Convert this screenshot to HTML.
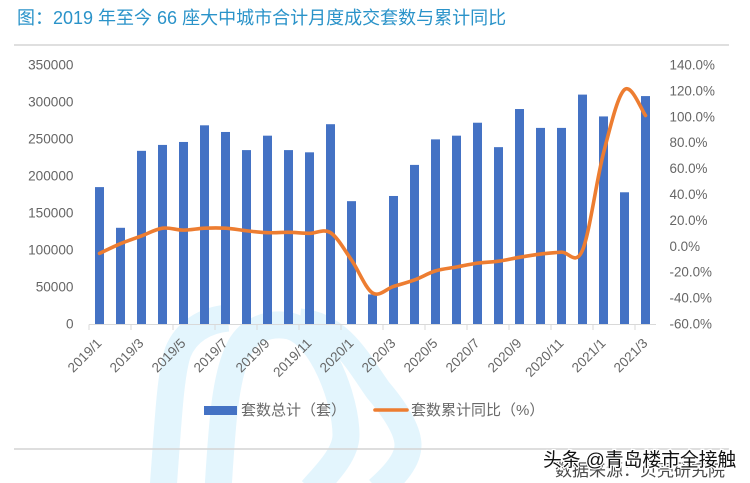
<!DOCTYPE html>
<html lang="zh">
<head>
<meta charset="utf-8">
<title>2019 年至今 66 座大中城市合计月度成交套数与累计同比</title>
<style>
html,body{margin:0;padding:0;background:#fff;}
body{width:750px;height:483px;overflow:hidden;position:relative;}
svg{position:absolute;left:0;top:0;display:block;filter:blur(0.35px);}
text{font-family:"Liberation Sans","Noto Sans CJK SC",sans-serif;}
</style>
</head>
<body>
<svg id="chart" width="750" height="483" viewBox="0 0 750 483" xmlns="http://www.w3.org/2000/svg">
  <g fill="none" stroke="#e3f5fd" stroke-width="27">
    <path d="M163,490 C168,425 170,375 178,352 C186,332 205,320 228,318"/>
    <path d="M218,490 C222,425 225,375 240,347 C250,329 270,322 290,326 C322,335 346,400 346,435 C346,455 325,475 312,490"/>
    <path d="M300,322 C340,325 360,365 378,390 C395,410 408,430 408,445 C408,460 395,475 378,490"/>
  </g>
  <text x="17" y="24" font-size="18" fill="#2a93c9">图：2019 年至今 66 座大中城市合计月度成交套数与累计同比</text>
  <line x1="14" y1="45" x2="729" y2="45" stroke="#bfbfbf" stroke-width="1"/>
  <line x1="14" y1="449" x2="729" y2="449" stroke="#d4d4d4" stroke-width="1.5"/>
  <g id="bars"></g>
  <line x1="89" y1="324.5" x2="656" y2="324.5" stroke="#d9d9d9" stroke-width="1"/>
  <g id="ticks"></g>
  <g id="xlabels"></g>
  <g id="ylabels"></g>
  <g id="rlabels"></g>
  <path id="line" fill="none" stroke="#ed7d31" stroke-width="3.6" stroke-linecap="round" stroke-linejoin="round"/>
  <g>
    <rect x="204" y="406" width="33" height="9" fill="#4472c4"/>
    <text x="241" y="415" font-size="15" fill="#6a6a6a">套数总计（套）</text>
    <line x1="375" y1="410" x2="407" y2="410" stroke="#ed7d31" stroke-width="3.6" stroke-linecap="round"/>
    <text x="411" y="415" font-size="15" fill="#6a6a6a">套数累计同比（%）</text>
  </g>
  <text x="555" y="476" font-size="17" fill="#4a4a4a">数据来源：贝壳研究院</text>
  <text x="543" y="466" font-size="18.8" fill="#111" stroke="#fff" stroke-width="2.5" paint-order="stroke">头条 @青岛楼市全接触</text>
</svg>
<script>
const categories = ["2019/1","2019/2","2019/3","2019/4","2019/5","2019/6","2019/7","2019/8","2019/9","2019/10","2019/11","2019/12","2020/1","2020/2","2020/3","2020/4","2020/5","2020/6","2020/7","2020/8","2020/9","2020/10","2020/11","2020/12","2021/1","2021/2","2021/3"];
const totalUnits = [185000,130000,234000,242000,246000,268500,259500,235000,254500,235000,232000,270000,166000,40000,173000,215000,249500,254500,272000,239000,290500,265000,265000,310000,280500,178000,308000];
const yoyPercent = [-5.5,2,8,14,12.5,14,14,12,10.5,10.8,10,10.5,-10.6,-36,-31,-26,-19,-16,-13,-11.5,-8.5,-6,-4.5,-3,72,121,101];
const leftTicks = [0,50000,100000,150000,200000,250000,300000,350000];
const rightTicks = [-60,-40,-20,0,20,40,60,80,100,120,140];

const NS = "http://www.w3.org/2000/svg";
const plotLeft = 89, plotRight = 656, plotBottom = 324, plotTop = 65;
const leftMax = 350000, rightMin = -60, rightMax = 140, barWidth = 9;
const step = (plotRight - plotLeft) / categories.length;

function xCenter(i) { return plotLeft + step * (i + 0.5); }
function yLeft(v) { return plotBottom - (v / leftMax) * (plotBottom - plotTop); }
function yRight(p) { return plotBottom - ((p - rightMin) / (rightMax - rightMin)) * (plotBottom - plotTop); }
function make(tag) { return document.createElementNS(NS, tag); }

const barsGroup = document.getElementById("bars");
totalUnits.forEach(function (v, i) {
  const r = make("rect");
  
  
  r.setAttribute("x", xCenter(i) - barWidth / 2);
  r.setAttribute("y", yLeft(v));
  r.setAttribute("width", barWidth);
  r.setAttribute("height", plotBottom - yLeft(v));
  r.setAttribute("fill", "#4472c4");
  barsGroup.appendChild(r);
});

const ticksGroup = document.getElementById("ticks");
for (let i = 0; i <= categories.length; i += 2) {
  const t = make("line");
  
  
  const tx = plotLeft + step * i;
  t.setAttribute("x1", tx);
  t.setAttribute("x2", tx);
  t.setAttribute("y1", 324.5);
  t.setAttribute("y2", 330);
  t.setAttribute("stroke", "#d9d9d9");
  ticksGroup.appendChild(t);
}

const xGroup = document.getElementById("xlabels");
categories.forEach(function (c, i) {
  if (i % 2 !== 0) return;
  const t = make("text");
  
  
  const tx = xCenter(i) + 3, ty = 344;
  t.setAttribute("x", tx);
  t.setAttribute("y", ty);
  t.setAttribute("text-anchor", "end");
  t.setAttribute("font-size", "13.5");
  t.setAttribute("fill", "#666");
  t.setAttribute("transform", "rotate(-45 " + tx + " " + ty + ")");
  t.textContent = c;
  xGroup.appendChild(t);
});

const yGroup = document.getElementById("ylabels");
leftTicks.forEach(function (v) {
  const t = make("text");
  
  
  t.setAttribute("x", 73.5);
  t.setAttribute("y", yLeft(v) + 4.5);
  t.setAttribute("text-anchor", "end");
  t.setAttribute("font-size", "13.6");
  t.setAttribute("fill", "#666");
  t.textContent = String(v);
  yGroup.appendChild(t);
});

const rGroup = document.getElementById("rlabels");
rightTicks.forEach(function (p) {
  const t = make("text");
  
  
  t.setAttribute("x", 669.5);
  t.setAttribute("y", yRight(p) + 4.5);
  t.setAttribute("font-size", "13.4");
  t.setAttribute("fill", "#666");
  t.textContent = p.toFixed(1) + "%";
  rGroup.appendChild(t);
});

const pts = yoyPercent.map(function (p, i) { return [xCenter(i), yRight(p)]; });
let d = "M" + pts[0][0] + "," + pts[0][1];
for (let i = 0; i < pts.length - 1; i++) {
  const p0 = pts[Math.max(i - 1, 0)], p1 = pts[i], p2 = pts[i + 1], p3 = pts[Math.min(i + 2, pts.length - 1)];
  const c1x = p1[0] + (p2[0] - p0[0]) / 6, c1y = p1[1] + (p2[1] - p0[1]) / 6;
  const c2x = p2[0] - (p3[0] - p1[0]) / 6, c2y = p2[1] - (p3[1] - p1[1]) / 6;
  d += " C" + c1x + "," + c1y + " " + c2x + "," + c2y + " " + p2[0] + "," + p2[1];
}
document.getElementById("line").setAttribute("d", d);
</script>
</body>
</html>
